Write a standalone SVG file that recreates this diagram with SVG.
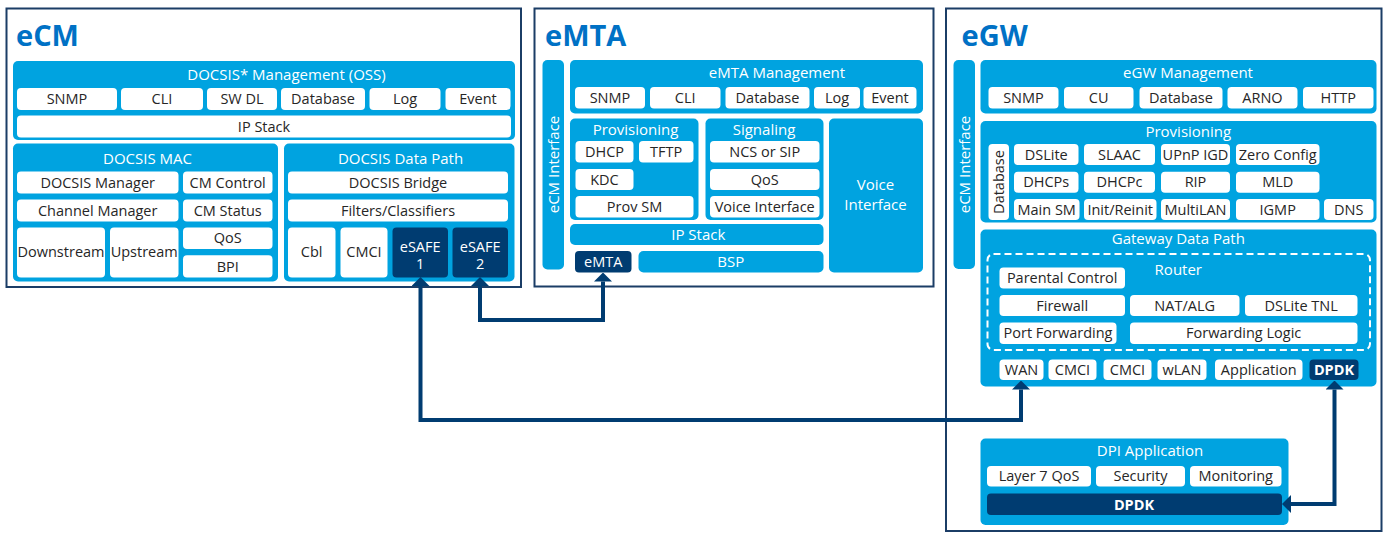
<svg xmlns="http://www.w3.org/2000/svg" width="1385" height="533" viewBox="0 0 1385 533">
  <style>
    text { font-family: "Open Sans", "Liberation Sans", sans-serif; }
    .frame { fill: #ffffff; stroke: #1b3d66; stroke-width: 2; }
    .panel { fill: #00a3e0; }
    .cell { fill: #ffffff; }
    .dark { fill: #003c71; }
    .head { font-size: 29px; font-weight: bold; fill: #0071c5; }
    .pt { font-size: 15px; fill: #ffffff; text-anchor: middle; }
    .ct { font-size: 14.5px; fill: #262626; text-anchor: middle; }
    .wt { font-size: 14.5px; fill: #ffffff; text-anchor: middle; }
    .bt { font-size: 14.5px; font-weight: bold; fill: #ffffff; text-anchor: middle; }
    .dash { fill: none; stroke: #ffffff; stroke-width: 2; stroke-dasharray: 7 4; }
    .conn { fill: none; stroke: #003c71; stroke-width: 4; marker-start: url(#ah); marker-end: url(#ah); }
  </style>
  <defs>
    <marker id="ah" viewBox="0 0 9 18" refX="0" refY="9" markerWidth="9" markerHeight="18" markerUnits="userSpaceOnUse" orient="auto-start-reverse">
      <path d="M0,0 L9,9 L0,18 z" fill="#003c71"/>
    </marker>
  </defs>

  <!-- ===== eCM ===== -->
  <g id="ecm">
    <rect class="frame" x="6.5" y="8.5" width="514.5" height="278.5"/>
    <text class="head" x="16" y="46">eCM</text>
  </g>
  <g id="ecm-oss">
    <rect class="panel" x="13" y="61" width="502" height="79" rx="5"/>
    <text class="pt" x="286.5" y="79.5">DOCSIS* Management (OSS)</text>
    <rect class="cell" x="17" y="88" width="100" height="22" rx="4"/><text class="ct" x="67" y="104">SNMP</text>
    <rect class="cell" x="121" y="88" width="82" height="22" rx="4"/><text class="ct" x="162" y="104">CLI</text>
    <rect class="cell" x="207" y="88" width="70" height="22" rx="4"/><text class="ct" x="242" y="104">SW DL</text>
    <rect class="cell" x="281" y="88" width="84" height="22" rx="4"/><text class="ct" x="323" y="104">Database</text>
    <rect class="cell" x="369.5" y="88" width="71" height="22" rx="4"/><text class="ct" x="405" y="104">Log</text>
    <rect class="cell" x="445.5" y="88" width="65" height="22" rx="4"/><text class="ct" x="478" y="104">Event</text>
    <rect class="cell" x="17" y="115.5" width="494" height="22" rx="4"/><text class="ct" x="264" y="131.5">IP Stack</text>
  </g>
  <g id="ecm-mac">
    <rect class="panel" x="13" y="143.5" width="265" height="138" rx="5"/>
    <text class="pt" x="147.5" y="163.5">DOCSIS MAC</text>
    <rect class="cell" x="17" y="171.5" width="161.5" height="22" rx="4"/><text class="ct" x="97.7" y="187.5">DOCSIS Manager</text>
    <rect class="cell" x="183" y="171.5" width="89.5" height="22" rx="4"/><text class="ct" x="227.7" y="187.5">CM Control</text>
    <rect class="cell" x="17" y="199.5" width="161.5" height="22" rx="4"/><text class="ct" x="97.7" y="215.5">Channel Manager</text>
    <rect class="cell" x="183" y="199.5" width="89.5" height="22" rx="4"/><text class="ct" x="227.7" y="215.5">CM Status</text>
    <rect class="cell" x="17" y="227.5" width="88" height="50" rx="4"/><text class="ct" x="61" y="257">Downstream</text>
    <rect class="cell" x="110" y="227.5" width="68.5" height="50" rx="4"/><text class="ct" x="144.2" y="257">Upstream</text>
    <rect class="cell" x="183" y="227.5" width="89.5" height="21.5" rx="4"/><text class="ct" x="227.7" y="243.3">QoS</text>
    <rect class="cell" x="183" y="255.3" width="89.5" height="22.3" rx="4"/><text class="ct" x="227.7" y="271.5">BPI</text>
  </g>
  <g id="ecm-datapath">
    <rect class="panel" x="284" y="143.5" width="230.5" height="138" rx="5"/>
    <text class="pt" x="400.5" y="163.5">DOCSIS Data Path</text>
    <rect class="cell" x="288" y="171.5" width="220" height="22" rx="4"/><text class="ct" x="398" y="187.5">DOCSIS Bridge</text>
    <rect class="cell" x="288" y="199.5" width="220" height="22" rx="4"/><text class="ct" x="398" y="215.5">Filters/Classifiers</text>
    <rect class="cell" x="288" y="227.5" width="47.5" height="50" rx="4"/><text class="ct" x="311.7" y="257">Cbl</text>
    <rect class="cell" x="340.5" y="227.5" width="47" height="50" rx="4"/><text class="ct" x="364" y="257">CMCI</text>
  </g>
  <g id="esafe1">
    <rect class="dark" x="392.5" y="227.5" width="55.5" height="50" rx="4"/>
    <text class="wt" x="420.2" y="252">eSAFE</text><text class="wt" x="420.2" y="268.5">1</text>
  </g>
  <g id="esafe2">
    <rect class="dark" x="452.5" y="227.5" width="55.5" height="50" rx="4"/>
    <text class="wt" x="480.2" y="252">eSAFE</text><text class="wt" x="480.2" y="268.5">2</text>
  </g>

  <!-- ===== eMTA ===== -->
  <g id="emta">
    <rect class="frame" x="534.5" y="8.5" width="399" height="278"/>
    <text class="head" x="545" y="46">eMTA</text>
  </g>
  <g id="emta-ecm-if">
    <rect class="panel" x="542.5" y="60" width="21.5" height="209.5" rx="5"/>
    <text class="pt" transform="translate(558.5,164.5) rotate(-90)" x="0" y="0">eCM Interface</text>
  </g>
  <g id="emta-mgmt">
    <rect class="panel" x="570" y="60" width="353" height="53.5" rx="5"/>
    <text class="pt" x="777" y="77.5">eMTA Management</text>
    <rect class="cell" x="575" y="87" width="70" height="21.5" rx="4"/><text class="ct" x="610" y="102.8">SNMP</text>
    <rect class="cell" x="650" y="87" width="70.5" height="21.5" rx="4"/><text class="ct" x="685.2" y="102.8">CLI</text>
    <rect class="cell" x="725.5" y="87" width="84" height="21.5" rx="4"/><text class="ct" x="767.5" y="102.8">Database</text>
    <rect class="cell" x="814" y="87" width="46" height="21.5" rx="4"/><text class="ct" x="837" y="102.8">Log</text>
    <rect class="cell" x="863.5" y="87" width="53" height="21.5" rx="4"/><text class="ct" x="890" y="102.8">Event</text>
  </g>
  <g id="emta-prov">
    <rect class="panel" x="570" y="118.5" width="128.5" height="101.5" rx="5"/>
    <text class="pt" x="635.5" y="135">Provisioning</text>
    <rect class="cell" x="575.5" y="141" width="58" height="21.5" rx="4"/><text class="ct" x="604.5" y="156.8">DHCP</text>
    <rect class="cell" x="639" y="141" width="54.5" height="21.5" rx="4"/><text class="ct" x="666.2" y="156.8">TFTP</text>
    <rect class="cell" x="575.5" y="169" width="58" height="21" rx="4"/><text class="ct" x="604.5" y="184.5">KDC</text>
    <rect class="cell" x="575.5" y="196" width="118" height="21.5" rx="4"/><text class="ct" x="634.5" y="211.8">Prov SM</text>
  </g>
  <g id="emta-signaling">
    <rect class="panel" x="705.5" y="118.5" width="118" height="101.5" rx="5"/>
    <text class="pt" x="764" y="135">Signaling</text>
    <rect class="cell" x="710" y="141" width="109.5" height="21.5" rx="4"/><text class="ct" x="764.7" y="156.8">NCS or SIP</text>
    <rect class="cell" x="710" y="169" width="109.5" height="21" rx="4"/><text class="ct" x="764.7" y="184.5">QoS</text>
    <rect class="cell" x="710" y="196" width="109.5" height="21.5" rx="4"/><text class="ct" x="764.7" y="211.8">Voice Interface</text>
  </g>
  <g id="emta-voice">
    <rect class="panel" x="829" y="118.5" width="94" height="154" rx="5"/>
    <text class="pt" x="875.5" y="189.5">Voice</text>
    <text class="pt" x="875.5" y="209.5">Interface</text>
  </g>
  <g id="emta-ipstack">
    <rect class="panel" x="570" y="224" width="253.5" height="21" rx="5"/>
    <text class="pt" x="698.3" y="240">IP Stack</text>
  </g>
  <g id="emta-port">
    <rect class="dark" x="575" y="251" width="56.5" height="21.5" rx="4"/>
    <text class="wt" x="603.2" y="266.8">eMTA</text>
  </g>
  <g id="emta-bsp">
    <rect class="panel" x="638.5" y="251" width="185" height="21.5" rx="5"/>
    <text class="pt" x="730.7" y="266.8">BSP</text>
  </g>

  <!-- ===== eGW ===== -->
  <g id="egw">
    <rect class="frame" x="946" y="8.5" width="435.5" height="522.5"/>
    <text class="head" x="961.5" y="46">eGW</text>
  </g>
  <g id="egw-ecm-if">
    <rect class="panel" x="953.5" y="60" width="21.5" height="209" rx="5"/>
    <text class="pt" transform="translate(969.5,164.5) rotate(-90)" x="0" y="0">eCM Interface</text>
  </g>
  <g id="egw-mgmt">
    <rect class="panel" x="980.5" y="60" width="396" height="53.5" rx="5"/>
    <text class="pt" x="1188" y="77.5">eGW Management</text>
    <rect class="cell" x="988.5" y="87" width="70" height="21.5" rx="4"/><text class="ct" x="1023.5" y="102.8">SNMP</text>
    <rect class="cell" x="1064" y="87" width="69.5" height="21.5" rx="4"/><text class="ct" x="1098.7" y="102.8">CU</text>
    <rect class="cell" x="1139.5" y="87" width="83" height="21.5" rx="4"/><text class="ct" x="1181" y="102.8">Database</text>
    <rect class="cell" x="1227.5" y="87" width="70" height="21.5" rx="4"/><text class="ct" x="1262.5" y="102.8">ARNO</text>
    <rect class="cell" x="1303" y="87" width="70.5" height="21.5" rx="4"/><text class="ct" x="1338.2" y="102.8">HTTP</text>
  </g>
  <g id="egw-prov">
    <rect class="panel" x="980.5" y="121" width="396" height="101.5" rx="5"/>
    <text class="pt" x="1188.3" y="137">Provisioning</text>
    <rect class="cell" x="988.5" y="144" width="20.5" height="76" rx="4"/>
    <text class="ct" transform="translate(1004,182) rotate(-90)" x="0" y="0">Database</text>
    <rect class="cell" x="1014" y="144" width="64.5" height="21" rx="4"/><text class="ct" x="1046.2" y="159.5">DSLite</text>
    <rect class="cell" x="1084" y="144" width="71" height="21" rx="4"/><text class="ct" x="1119.5" y="159.5">SLAAC</text>
    <rect class="cell" x="1161" y="144" width="69" height="21" rx="4"/><text class="ct" x="1195.5" y="159.5">UPnP IGD</text>
    <rect class="cell" x="1236" y="144" width="83.5" height="21" rx="4"/><text class="ct" x="1277.7" y="159.5">Zero Config</text>
    <rect class="cell" x="1014" y="171.7" width="64.5" height="21" rx="4"/><text class="ct" x="1046.2" y="187.2">DHCPs</text>
    <rect class="cell" x="1084" y="171.7" width="71" height="21" rx="4"/><text class="ct" x="1119.5" y="187.2">DHCPc</text>
    <rect class="cell" x="1161" y="171.7" width="69" height="21" rx="4"/><text class="ct" x="1195.5" y="187.2">RIP</text>
    <rect class="cell" x="1236" y="171.7" width="83.5" height="21" rx="4"/><text class="ct" x="1277.7" y="187.2">MLD</text>
    <rect class="cell" x="1014" y="199" width="65.5" height="21" rx="4"/><text class="ct" x="1046.7" y="214.5">Main SM</text>
    <rect class="cell" x="1084" y="199" width="72.5" height="21" rx="4"/><text class="ct" x="1120.2" y="214.5">Init/Reinit</text>
    <rect class="cell" x="1161" y="199" width="69" height="21" rx="4"/><text class="ct" x="1195.5" y="214.5">MultiLAN</text>
    <rect class="cell" x="1236" y="199" width="83.5" height="21" rx="4"/><text class="ct" x="1277.7" y="214.5">IGMP</text>
    <rect class="cell" x="1324" y="199" width="49.5" height="21" rx="4"/><text class="ct" x="1348.7" y="214.5">DNS</text>
  </g>
  <g id="egw-datapath">
    <rect class="panel" x="980.5" y="229.5" width="396" height="157" rx="5"/>
    <text class="pt" x="1178.3" y="244">Gateway Data Path</text>
  </g>
  <g id="egw-router">
    <rect class="dash" x="987.5" y="254" width="382.5" height="96" rx="6"/>
    <text class="pt" x="1178.3" y="275">Router</text>
    <rect class="cell" x="999.5" y="267.5" width="125.5" height="21" rx="4"/><text class="ct" x="1062.2" y="283">Parental Control</text>
    <rect class="cell" x="999.5" y="295" width="125.5" height="21" rx="4"/><text class="ct" x="1062.2" y="310.5">Firewall</text>
    <rect class="cell" x="1130" y="295" width="109.5" height="21" rx="4"/><text class="ct" x="1184.7" y="310.5">NAT/ALG</text>
    <rect class="cell" x="1245" y="295" width="112.5" height="21" rx="4"/><text class="ct" x="1301.2" y="310.5">DSLite TNL</text>
    <rect class="cell" x="999.5" y="322.5" width="117" height="21.5" rx="4"/><text class="ct" x="1058" y="338.3">Port Forwarding</text>
    <rect class="cell" x="1130" y="322.5" width="227.5" height="21.5" rx="4"/><text class="ct" x="1243.7" y="338.3">Forwarding Logic</text>
  </g>
  <g id="egw-ports">
    <rect class="cell" x="999.5" y="359.5" width="44" height="20.5" rx="4"/><text class="ct" x="1021.5" y="374.8">WAN</text>
    <rect class="cell" x="1048.5" y="359.5" width="48" height="20.5" rx="4"/><text class="ct" x="1072.5" y="374.8">CMCI</text>
    <rect class="cell" x="1103.5" y="359.5" width="48" height="20.5" rx="4"/><text class="ct" x="1127.5" y="374.8">CMCI</text>
    <rect class="cell" x="1157.5" y="359.5" width="49" height="20.5" rx="4"/><text class="ct" x="1182" y="374.8">wLAN</text>
    <rect class="cell" x="1215" y="359.5" width="87.5" height="20.5" rx="4"/><text class="ct" x="1258.7" y="374.8">Application</text>
  </g>
  <g id="egw-dpdk">
    <rect class="dark" x="1309.5" y="359.5" width="49" height="20.5" rx="4"/>
    <text class="bt" x="1334" y="374.8">DPDK</text>
  </g>
  <g id="dpi-app">
    <rect class="panel" x="980.5" y="438.5" width="308" height="86.5" rx="5"/>
    <text class="pt" x="1150" y="456">DPI Application</text>
    <rect class="cell" x="987" y="466" width="104" height="20.5" rx="4"/><text class="ct" x="1039" y="481.3">Layer 7 QoS</text>
    <rect class="cell" x="1096" y="466" width="89" height="20.5" rx="4"/><text class="ct" x="1140.5" y="481.3">Security</text>
    <rect class="cell" x="1190" y="466" width="91.5" height="20.5" rx="4"/><text class="ct" x="1235.7" y="481.3">Monitoring</text>
  </g>
  <g id="dpi-dpdk">
    <rect class="dark" x="987" y="493.5" width="295" height="21.5" rx="4"/>
    <text class="bt" x="1134" y="509.5">DPDK</text>
  </g>

  <!-- ===== connectors ===== -->
  <g id="connectors">
    <path class="conn" d="M420.5,286 V420 H1021 V389.5"/>
    <path class="conn" d="M480,286 V320 H603 V281.5"/>
    <path class="conn" d="M1334.5,389.5 V504 H1291"/>
  </g>
</svg>
